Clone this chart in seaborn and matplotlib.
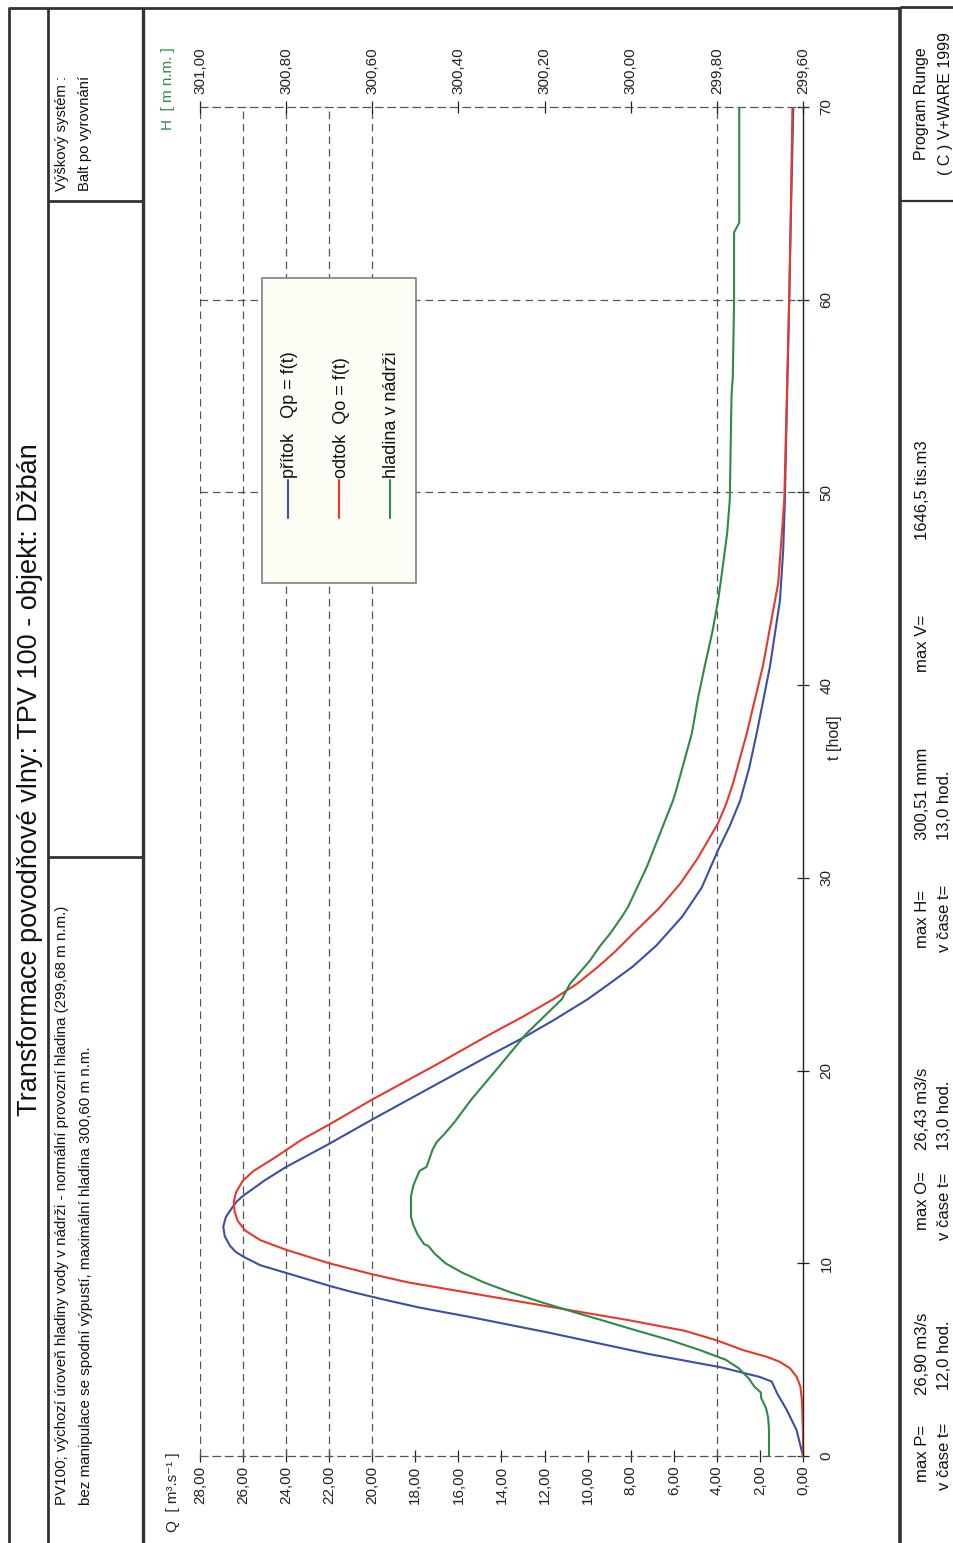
import matplotlib
matplotlib.use("Agg")
import matplotlib.pyplot as plt
from matplotlib.lines import Line2D
from matplotlib.patches import Rectangle
from matplotlib.ticker import FuncFormatter
import seaborn as sns
import pandas as pd

# ---------------- data ----------------
t_inflow = [0, 1.35, 2.4, 3.25, 3.86, 4.1, 4.6, 5.3, 6.4, 7.2, 7.7, 8.1, 8.5, 8.8, 9.2,
            9.5, 9.9, 10.35, 10.6, 10.9, 11.4, 11.9, 12.4, 12.9, 13.2, 13.5, 14.3, 15.0,
            16.2, 17.4, 19.3, 20.7, 21.7, 22.6, 23.7, 24.5, 25.4, 26.5, 28.0, 29.5,
            31.4, 32.7, 34.0, 35.7, 37.5, 41.0, 44.4, 47.0, 49.6, 55.0, 60.0, 65.0, 70.0]
q_inflow = [0, 0.3, 0.76, 1.2, 1.45, 2.0, 3.8, 7.2, 11.8, 15.4, 17.8, 19.4, 20.9, 21.9,
            23.1, 24.0, 25.2, 26.0, 26.35, 26.6, 26.85, 26.92, 26.8, 26.5, 26.3, 26.0,
            25.0, 24.0, 22.0, 20.1, 17.0, 14.7, 13.0, 11.6, 10.0, 9.0, 7.9, 6.8, 5.6,
            4.7, 3.96, 3.4, 2.92, 2.5, 2.15, 1.53, 1.07, 0.92, 0.84, 0.74, 0.64, 0.55,
            0.45]

t_outflow = [0, 1.2, 2.9, 3.6, 4.1, 4.55, 4.9, 5.15, 5.5, 6.0, 6.5, 6.75, 7.06, 7.58,
             8.1, 8.6, 9.0, 9.43, 10.0, 10.7, 11.2, 11.7, 12.2, 12.7, 13.2, 13.7, 14.3,
             14.8, 15.5, 16.4, 17.2, 18.5, 20.2, 21.9, 22.8, 23.7, 24.5, 25.4, 26.2,
             27.1, 28.4, 29.7, 31.0, 32.8, 33.8, 34.9, 37.5, 41.0, 45.3, 49.6, 55.0,
             60.0, 65.0, 70.0]
q_outflow = [0, 0.0, 0.05, 0.12, 0.29, 0.6, 1.1, 1.69, 2.8, 4.0, 5.5, 6.7, 8.15, 10.9,
             13.6, 16.2, 18.3, 20.0, 22.0, 24.0, 25.2, 25.9, 26.25, 26.4, 26.43, 26.32,
             26.0, 25.5, 24.5, 23.3, 22.0, 20.0, 17.2, 14.5, 13.0, 11.6, 10.5, 9.5,
             8.7, 7.9, 6.7, 5.7, 4.9, 3.96, 3.58, 3.25, 2.61, 1.86, 1.15, 0.87, 0.75,
             0.64, 0.56, 0.49]

t_level = [0, 1.4, 2.0, 2.5, 3.0, 3.3, 3.6, 4.0, 4.55, 5.0, 5.5, 6.0, 6.5, 7.0, 7.5,
           8.0, 8.5, 9.0, 9.5, 10.0, 10.5, 10.9, 11.0, 11.5, 12.0, 12.4, 13.0, 13.5,
           14.0, 14.3, 14.8, 15.0, 15.9, 16.3, 16.7, 17.3, 17.6, 18.5, 20.2, 21.9,
           23.7, 24.5, 25.7, 26.5, 27.1, 28.0, 28.5, 30.6, 34.0, 34.5, 35.8, 37.5,
           39.3, 41.0, 42.7, 44.4, 46.2, 47.9, 49.6, 55.0, 56.0, 60.0, 63.5, 64.0, 70.0]
h_level = [299.679, 299.679, 299.681, 299.686, 299.697, 299.698, 299.713, 299.725,
           299.749, 299.78, 299.84, 299.907, 299.985, 300.06, 300.137, 300.21, 300.28,
           300.34, 300.39, 300.43, 300.455, 300.47, 300.48, 300.495, 300.505, 300.51,
           300.51, 300.51, 300.505, 300.50, 300.49, 300.474, 300.46, 300.45, 300.433,
           300.41, 300.40, 300.37, 300.306, 300.243, 300.16, 300.141, 300.095, 300.07,
           300.048, 300.02, 300.006, 299.962, 299.902, 299.895, 299.879, 299.858,
           299.844, 299.828, 299.811, 299.797, 299.786, 299.776, 299.770, 299.766,
           299.763, 299.760, 299.760, 299.748, 299.748]

q_ticks = [0, 2, 4, 6, 8, 10, 12, 14, 16, 18, 20, 22, 24, 26, 28]
t_ticks = [0, 10, 20, 30, 40, 50, 60, 70]
h_ticks = [299.6, 299.8, 300.0, 300.2, 300.4, 300.6, 300.8, 301.0]
grid_q = [4, 20, 22, 24, 26, 28]
grid_t = [50, 60]

legend_labels = ["přítok   Qp = f(t)", "odtok  Qo = f(t)", "hladina v nádrži"]

title = "Transformace povodňové vlny: TPV 100 - objekt: Džbán"
note_lines = ["PV100; výchozí úroveň hladiny vody v nádrži - normální provozní hladina (299,68 m n.m.)",
              "bez manipulace se spodní výpustí, maximální hladina 300,60 m n.m."]
height_sys = ["Výškový systém :", "Balt po vyrovnání"]
program = ["Program Runge", "( C ) V+WARE 1999"]

max_P, t_P = 26.90, 12.0
max_O, t_O = 26.43, 13.0
max_H, t_H = 300.51, 13.0
max_V = 1646.5

# ---------------- style ----------------
sns.set_theme(style="white")
plt.rcParams['font.family'] = ['Liberation Sans', 'DejaVu Sans']
plt.rcParams['axes.unicode_minus'] = False

c_blue = '#3b4fa3'
c_red = '#e5392d'
c_green = '#2e8a47'
c_frame = '#333333'
c_grid = '#555555'
dash = (0, (6, 4))

W, HP = 954, 1543
fig = plt.figure(figsize=(W / 100, HP / 100), dpi=100)
fig.patch.set_facecolor('white')


def fx(x):
    return x / W


def fy(y):
    return 1 - y / HP


L, R, T, B = 200, 803, 107, 1456
ax = fig.add_axes([fx(L), fy(B), (R - L) / W, (B - T) / HP])
ax.set_facecolor('none')
ax2 = ax.twiny()

df_in = pd.DataFrame({'t': t_inflow, 'Q': q_inflow})
df_out = pd.DataFrame({'t': t_outflow, 'Q': q_outflow})
df_lvl = pd.DataFrame({'t': t_level, 'H': h_level})

sns.lineplot(data=df_in, x='Q', y='t', sort=False, estimator=None, color=c_blue,
             lw=1.5, ax=ax, zorder=3)
sns.lineplot(data=df_out, x='Q', y='t', sort=False, estimator=None, color=c_red,
             lw=1.5, ax=ax, zorder=4)
sns.lineplot(data=df_lvl, x='H', y='t', sort=False, estimator=None, color=c_green,
             lw=1.5, ax=ax2, zorder=3)

for a in (ax, ax2):
    a.set_xlabel('')
    a.set_ylabel('')

ax.set_xlim(28, 0)
ax.set_ylim(0, 70)
ax2.set_xlim(301.0, 299.6)

for q in grid_q:
    ax.axvline(q, color=c_grid, lw=0.9, ls=dash, zorder=1)
for tg in grid_t:
    ax.axhline(tg, color=c_grid, lw=0.9, ls=dash, zorder=1)

comma2 = FuncFormatter(lambda v, p: f"{v:.2f}".replace('.', ','))

ax.set_xticks(q_ticks)
ax.xaxis.set_major_formatter(comma2)
ax.tick_params(axis='x', which='major', direction='inout', length=8, width=0.9,
               color='#222222', labelcolor='#222222', labelsize=11, labelrotation=90,
               pad=3, bottom=True, top=False)

ax.yaxis.tick_right()
ax.set_yticks(t_ticks)
ax.tick_params(axis='y', which='major', direction='inout', length=8, width=0.9,
               color='#222222', labelcolor='#222222', labelsize=11, labelrotation=90,
               pad=8, right=True, left=False)
for lab in ax.get_yticklabels():
    lab.set_va('center')

ax2.set_xticks(h_ticks)
ax2.xaxis.set_major_formatter(comma2)
ax2.tick_params(axis='x', which='major', direction='inout', length=8, width=0.9,
                color='#222222', labelcolor='#222222', labelsize=11, labelrotation=90,
                pad=5, top=True, bottom=False)

for s in ax2.spines.values():
    s.set_visible(False)
ax.spines['left'].set_visible(False)
for side in ('top', 'bottom'):
    ax.spines[side].set_linestyle(dash)
    ax.spines[side].set_color(c_grid)
    ax.spines[side].set_linewidth(0.9)
ax.spines['right'].set_color('#222222')
ax.spines['right'].set_linewidth(1.0)

# axis titles
fig.text(fx(173), fy(1532), "Q  [ m³.s⁻¹ ]", rotation=90, rotation_mode='anchor',
         ha='left', va='center', fontsize=11, color='#222222')
fig.text(fx(168), fy(130), "H  [ m n.m. ]", rotation=90, rotation_mode='anchor',
         ha='left', va='center', fontsize=11, color=c_green)
fig.text(fx(835), fy(738), "t [hod]", rotation=90, rotation_mode='anchor',
         ha='center', va='center', fontsize=11.5, color='#222222')

# ---------------- frame ----------------
def seg(x1, y1, x2, y2, lw=2.0):
    fig.add_artist(Line2D([fx(x1), fx(x2)], [fy(y1), fy(y2)], transform=fig.transFigure,
                          color=c_frame, lw=lw, solid_capstyle='butt'))


seg(9, 7, 9, 1543)
seg(48, 7, 48, 1543)
seg(143, 7, 143, 1543, lw=2.4)
seg(900, 7, 900, 1543, lw=2.6)
seg(9, 8, 900, 8)
seg(900, 7, 954, 7)
seg(48, 201, 143, 201)
seg(48, 857, 143, 857)
seg(900, 201, 954, 201, lw=1.6)

# ---------------- texts ----------------
fig.text(fx(30), fy(780), title, rotation=90, rotation_mode='anchor', ha='center',
         va='center', fontsize=19.5, color='#111111')
for xc, line in zip([62, 86], note_lines):
    fig.text(fx(xc), fy(1505), line, rotation=90, rotation_mode='anchor', ha='left',
             va='center', fontsize=10.9, color='#111111')
for xc, line in zip([62, 85], height_sys):
    fig.text(fx(xc), fy(191), line, rotation=90, rotation_mode='anchor', ha='left',
             va='center', fontsize=10.7, color='#111111')
for xc, line in zip([922, 946], program):
    fig.text(fx(xc), fy(104), line, rotation=90, rotation_mode='anchor', ha='center',
             va='center', fontsize=11.5, color='#111111')


def num(v, d):
    return f"{v:.{d}f}".replace('.', ',')


stats = [
    (923, 1482, "max P="), (923, 1395, f"{num(max_P, 2)} m3/s"),
    (945, 1490, "v čase t="), (945, 1390, f"{num(t_P, 1)} hod."),
    (923, 1230, "max O="), (923, 1150, f"{num(max_O, 2)} m3/s"),
    (945, 1240, "v čase t="), (945, 1150, f"{num(t_O, 1)} hod."),
    (923, 948, "max H="), (923, 840, f"{num(max_H, 2)} mnm"),
    (945, 952, "v čase t="), (945, 840, f"{num(t_H, 1)} hod."),
    (923, 672, "max V="), (923, 540, f"{num(max_V, 1)} tis.m3"),
]
for xc, ys, s in stats:
    fig.text(fx(xc), fy(ys), s, rotation=90, rotation_mode='anchor', ha='left',
             va='center', fontsize=12, color='#111111')

# ---------------- legend ----------------
fig.add_artist(Rectangle((fx(262), fy(583)), (416 - 262) / W, (583 - 278) / HP,
                         transform=fig.transFigure, facecolor='#fdfdf6',
                         edgecolor='#808080', lw=1.2, zorder=5))
for xc, col, lab in zip([288, 339, 390], [c_blue, c_red, c_green], legend_labels):
    fig.add_artist(Line2D([fx(xc), fx(xc)], [fy(518), fy(480)], transform=fig.transFigure,
                          color=col, lw=1.5, zorder=6))
    fig.text(fx(xc + 2), fy(478), lab, rotation=90, rotation_mode='anchor', ha='left',
             va='center', fontsize=13, color='#111111', zorder=7)

fig.savefig("out.png", dpi=100, facecolor='white')
